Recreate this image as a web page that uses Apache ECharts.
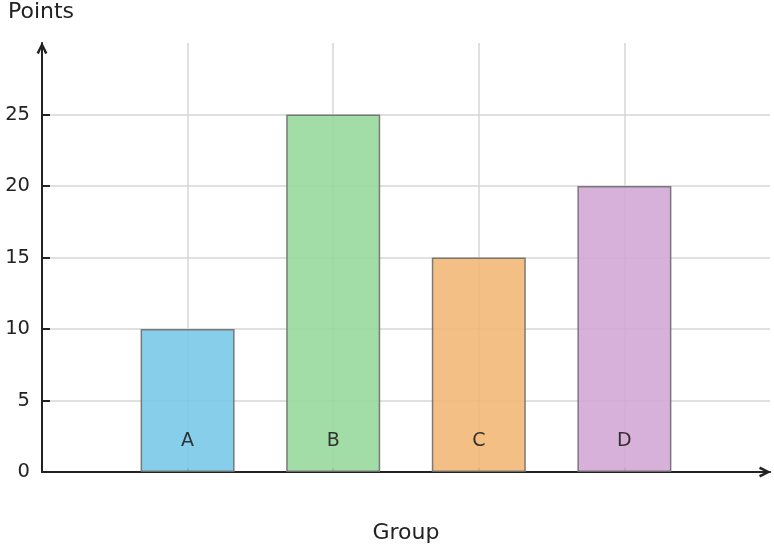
<!DOCTYPE html>
<html>
<head>
<meta charset="utf-8">
<script src="https://cdn.jsdelivr.net/npm/echarts@6/dist/echarts.min.js"></script>
<style>html,body{margin:0;padding:0;background:#fff}#c{width:774px;height:548px}</style>
</head>
<body>
<div id="c"></div>
<script>
const categories = ['A', 'B', 'C', 'D'];
const positions = [1, 2, 3, 4];
const points = [10, 25, 15, 20];
const colors = ['#79C9E8', '#98D99D', '#F2B877', '#D4A9D6'];
const yTicks = [0, 5, 10, 15, 20, 25];

const chart = echarts.init(document.getElementById('c'));
const font = 'DejaVu Sans';
const arrowUp = 'path://M0,10 L5,0 L10,10 L7.8,11 L5,4.6 L2.2,11 Z';

chart.setOption({
  animation: false,
  grid: { left: 42, right: 4, top: 43, bottom: 76, outerBoundsMode: 'none', containLabel: false },
  xAxis: {
    type: 'value', min: 0, max: 5, interval: 1,
    name: 'Group', nameLocation: 'middle', nameGap: 50,
    nameTextStyle: { fontFamily: font, fontSize: 22, color: '#222' },
    axisLine: { show: true, lineStyle: { color: '#222', width: 2 },
      symbol: ['none', arrowUp], symbolSize: [13, 12], symbolOffset: [0, -5] },
    axisTick: { show: true, inside: true, length: 4, lineStyle: { color: '#333', width: 1.5 },
      customValues: positions },
    axisLabel: { show: false },
    splitLine: { show: true, lineStyle: { color: '#d6d6d6', width: 1.5 } }
  },
  yAxis: {
    type: 'value', min: 0, max: 30, interval: 5,
    name: 'Points', nameLocation: 'end', nameGap: 20,
    nameTextStyle: { fontFamily: font, fontSize: 22, color: '#222', align: 'left', padding: [0, 0, 0, -34] },
    axisLine: { show: true, lineStyle: { color: '#222', width: 2 },
      symbol: ['none', arrowUp], symbolSize: [13, 12], symbolOffset: [0, -5] },
    axisTick: { show: true, inside: true, length: 8, lineStyle: { color: '#222', width: 2 }, customValues: yTicks },
    axisLabel: { fontFamily: font, fontSize: 19.5, color: '#222', margin: 12, customValues: yTicks },
    splitLine: { show: true, lineStyle: { color: '#d6d6d6', width: 1.5 } }
  },
  series: [{
    type: 'bar',
    barWidth: 94,
    data: positions.map((x, i) => ({
      value: [x, points[i]],
      name: categories[i],
      itemStyle: { color: colors[i] }
    })),
    itemStyle: { opacity: 0.9, borderColor: '#6f6f6f', borderWidth: 1.5 },
    label: {
      show: true, position: 'insideBottom', distance: 21,
      formatter: p => p.name,
      fontFamily: font, fontSize: 19, color: '#222'
    }
  }]
});
</script>
</body>
</html>
